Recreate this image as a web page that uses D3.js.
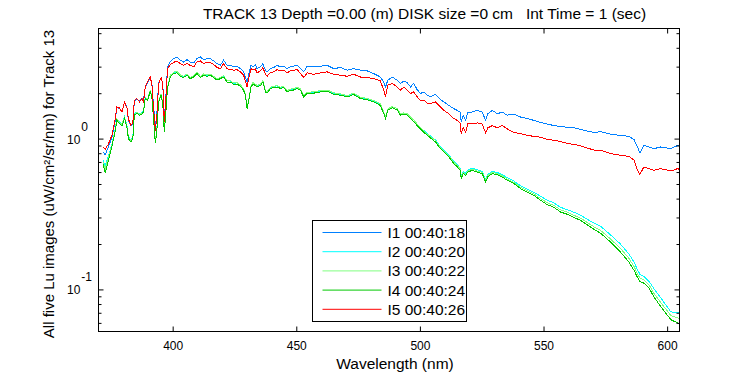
<!DOCTYPE html>
<html>
<head>
<meta charset="utf-8">
<script src="https://cdn.jsdelivr.net/npm/d3@7"></script>
<style>
  body { margin: 0; background: #fff; }
  text { font-family: "Liberation Sans", Arial, sans-serif; fill: #000; }
</style>
</head>
<body>
<script>
// wavelength (nm)
var wavelength = [
  371.8, 372.7, 374, 375.4, 376.8, 377.4, 378.5, 379.5, 380.5, 381.5, 382.1, 383.1, 383.9, 384.5, 385.5, 386.6, 387.6, 388.2, 388.9, 389.8,
  390.9, 391.6, 392.3, 393, 393.6, 394.3, 395.3, 396, 396.6, 397.4, 397.9, 399, 400.4, 401.7, 403.1, 404.4, 405.8, 407.1, 408.5, 409.8,
  411.2, 412.5, 413.9, 415.2, 416.6, 417.9, 419.3, 420.6, 422, 423.3, 424.7, 426, 427.4, 428.7, 429.4, 430.1, 430.7, 431.7, 432.5, 433.4,
  434.1, 435.5, 436.5, 437.5, 438.2, 439.5, 440.9, 442.2, 443.6, 444.9, 446.3, 447.6, 448.9, 450.3,
  451.7, 453, 454.4, 457, 459.8, 462.5, 465.1, 467.9, 470.6, 473.2, 476, 478.7, 481.3, 484, 485.4, 486.1, 487, 488.8, 490.8, 492.1,
  493.5, 494.9, 496.2, 497.5, 498.9, 500.2, 501.6, 503, 504.3, 506.3, 508.3, 509.7, 511.7, 513.7, 515.1, 516.2, 516.7, 517.5, 518.5, 519.4,
  521.2, 523.2, 525.2, 526.6, 527.5, 529.3, 531.3, 533.3, 535.3, 538, 540.7, 543.4, 546.1, 548.8, 551.5, 554.2, 556.9, 559.6, 562.3, 565,
  567.7, 570.4, 573.1,
  577.1, 581.1, 584.5, 586.6, 588, 589, 590.6, 592.7, 594.7, 597.4, 601.5, 604.2, 605
];

// I1 00:40:18
var lu1 = [
  0.82, 0.78, 0.88, 1.02, 1.32, 1.62, 1.58, 1.50, 1.75, 1.62, 1.32, 1.22, 1.26, 1.79, 1.81, 1.79, 1.84, 1.79, 2.20, 2.32,
  2.54, 2.32, 1.62, 1.19, 1.46, 2.32, 2.54, 2.32, 1.32, 2.09, 2.99, 3.22, 3.39, 3.48, 3.31, 3.22, 3.34, 3.22, 3.18, 3.39,
  3.48, 3.34, 3.39, 3.39, 3.27, 3.14, 3.06, 3.31, 3.06, 3.06, 2.99, 3.02, 2.91, 2.77, 2.56, 2.37, 2.63, 3.06, 2.99, 3.10,
  2.91, 2.99, 3.14, 2.84, 2.77, 2.91, 2.96, 3.06, 2.99, 3.02, 2.91, 2.99, 3.02, 3.06,
  2.91, 2.77, 3.02, 2.99, 3.02, 3.06, 2.91, 2.96, 2.84, 2.91, 2.84, 2.81, 2.70, 2.56, 2.37, 2.20, 2.44, 2.56, 2.44, 2.32,
  2.41, 2.34, 2.20, 2.32, 2.11, 1.99, 2.04, 1.94, 1.89, 1.97, 1.81, 1.75, 1.66, 1.58, 1.54, 1.50, 1.29, 1.43, 1.32, 1.50,
  1.50, 1.54, 1.50, 1.32, 1.46, 1.54, 1.46, 1.50, 1.43, 1.45, 1.39, 1.36, 1.32, 1.28, 1.25, 1.22, 1.20, 1.19, 1.18, 1.15,
  1.12, 1.10, 1.11,
  1.07, 1.05, 1.035, 0.985, 0.88, 0.80, 0.90, 0.88, 0.858, 0.88, 0.858, 0.90, 0.89
];

// I2 00:40:20
var lu2 = [
  0.72, 0.66, 0.77, 0.91, 1.16, 1.34, 1.29, 1.25, 1.39, 1.22, 1.03, 0.98, 1.03, 1.46, 1.50, 1.46, 1.49, 1.53, 1.87, 1.82,
  2.07, 1.92, 1.35, 0.96, 1.16, 1.78, 1.97, 1.74, 1.13, 1.65, 2.18, 2.60, 2.74, 2.77, 2.63, 2.58, 2.67, 2.54, 2.60, 2.74,
  2.58, 2.67, 2.63, 2.67, 2.58, 2.48, 2.54, 2.60, 2.41, 2.41, 2.33, 2.34, 2.26, 2.12, 1.97, 1.61, 1.78, 2.24, 2.34, 2.29,
  2.24, 2.29, 2.41, 2.07, 2.03, 2.18, 2.21, 2.24, 2.18, 2.21, 2.07, 2.12, 2.13, 2.18,
  2.12, 1.92, 2.02, 2.03, 2.07, 2.09, 2.00, 1.97, 1.92, 1.99, 1.87, 1.84, 1.78, 1.69, 1.48, 1.38, 1.57, 1.63, 1.58, 1.46,
  1.48, 1.46, 1.39, 1.33, 1.25, 1.19, 1.13, 1.08, 1.04, 0.98, 0.885, 0.84, 0.78, 0.705, 0.67, 0.64, 0.56, 0.605, 0.59, 0.62,
  0.637, 0.62, 0.606, 0.535, 0.58, 0.607, 0.596, 0.577, 0.55, 0.523, 0.486, 0.462, 0.44, 0.415, 0.39, 0.375, 0.35, 0.338, 0.325, 0.31,
  0.292, 0.275, 0.262,
  0.23, 0.20, 0.172, 0.152, 0.135, 0.126, 0.122, 0.113, 0.101, 0.088, 0.071, 0.070, 0.070
];

// I3 00:40:22
var lu3 = [
  0.70, 0.63, 0.75, 0.90, 1.15, 1.35, 1.28, 1.24, 1.38, 1.21, 1.02, 0.97, 1.02, 1.45, 1.49, 1.45, 1.48, 1.52, 1.86, 1.81,
  2.08, 1.92, 1.34, 0.95, 1.15, 1.78, 1.98, 1.74, 1.12, 1.65, 2.19, 2.62, 2.76, 2.79, 2.64, 2.59, 2.69, 2.55, 2.61, 2.76,
  2.59, 2.68, 2.64, 2.68, 2.59, 2.49, 2.55, 2.61, 2.42, 2.42, 2.34, 2.35, 2.27, 2.13, 1.98, 1.62, 1.79, 2.25, 2.35, 2.30,
  2.25, 2.30, 2.42, 2.08, 2.04, 2.19, 2.22, 2.25, 2.19, 2.22, 2.08, 2.13, 2.14, 2.19,
  2.13, 1.93, 2.03, 2.04, 2.08, 2.10, 2.01, 1.98, 1.93, 2.00, 1.88, 1.85, 1.79, 1.70, 1.49, 1.39, 1.57, 1.63, 1.58, 1.46,
  1.48, 1.46, 1.39, 1.33, 1.25, 1.18, 1.12, 1.07, 1.03, 0.97, 0.875, 0.83, 0.77, 0.697, 0.663, 0.632, 0.553, 0.597, 0.58, 0.61,
  0.628, 0.61, 0.597, 0.525, 0.57, 0.597, 0.586, 0.567, 0.54, 0.513, 0.476, 0.451, 0.43, 0.40, 0.376, 0.36, 0.337, 0.325, 0.31, 0.297,
  0.278, 0.26, 0.246,
  0.216, 0.187, 0.161, 0.142, 0.127, 0.119, 0.116, 0.107, 0.094, 0.082, 0.067, 0.065, 0.064
];

// I4 00:40:24
var lu4 = [
  0.68, 0.59, 0.72, 0.88, 1.13, 1.32, 1.26, 1.22, 1.36, 1.19, 1.00, 0.95, 1.00, 1.43, 1.47, 1.43, 1.46, 1.50, 1.84, 1.79,
  2.04, 1.89, 1.32, 0.93, 1.13, 1.75, 1.94, 1.71, 1.10, 1.62, 2.15, 2.56, 2.70, 2.73, 2.59, 2.54, 2.63, 2.50, 2.56, 2.70,
  2.54, 2.63, 2.59, 2.63, 2.54, 2.44, 2.50, 2.56, 2.37, 2.37, 2.29, 2.30, 2.22, 2.09, 1.94, 1.58, 1.75, 2.20, 2.30, 2.25,
  2.20, 2.25, 2.37, 2.04, 2.00, 2.15, 2.18, 2.20, 2.15, 2.18, 2.04, 2.09, 2.10, 2.15,
  2.09, 1.89, 1.99, 2.00, 2.04, 2.06, 1.97, 1.94, 1.89, 1.96, 1.84, 1.81, 1.75, 1.66, 1.46, 1.36, 1.54, 1.60, 1.55, 1.43,
  1.45, 1.43, 1.36, 1.30, 1.22, 1.16, 1.10, 1.05, 1.01, 0.95, 0.858, 0.815, 0.755, 0.683, 0.65, 0.62, 0.543, 0.586, 0.57, 0.60,
  0.616, 0.60, 0.586, 0.515, 0.56, 0.586, 0.575, 0.556, 0.53, 0.503, 0.466, 0.442, 0.42, 0.39, 0.365, 0.35, 0.326, 0.315, 0.30, 0.287,
  0.268, 0.25, 0.236,
  0.206, 0.177, 0.152, 0.134, 0.12, 0.113, 0.11, 0.102, 0.089, 0.077, 0.063, 0.060, 0.0595
];

// I5 00:40:26
var lu5 = [
  0.88, 0.85, 0.92, 1.05, 1.35, 1.62, 1.60, 1.50, 1.75, 1.60, 1.35, 1.22, 1.28, 1.79, 1.84, 1.75, 1.84, 1.75, 2.20, 2.36,
  2.56, 2.30, 1.55, 1.13, 1.40, 2.30, 2.54, 2.30, 1.29, 2.00, 2.90, 3.10, 3.20, 3.27, 3.14, 3.06, 3.14, 3.06, 2.99, 3.22,
  3.27, 3.14, 3.22, 3.18, 3.10, 2.96, 2.91, 3.14, 2.91, 2.87, 2.84, 2.87, 2.77, 2.63, 2.41, 2.20, 2.50, 2.91, 2.84, 2.91,
  2.73, 2.81, 2.96, 2.67, 2.59, 2.73, 2.77, 2.87, 2.81, 2.84, 2.73, 2.81, 2.84, 2.87,
  2.70, 2.54, 2.73, 2.67, 2.73, 2.77, 2.67, 2.63, 2.59, 2.67, 2.56, 2.54, 2.50, 2.41, 2.09, 1.89, 2.26, 2.32, 2.20, 2.09,
  2.20, 2.09, 1.99, 2.04, 1.89, 1.79, 1.80, 1.72, 1.71, 1.75, 1.62, 1.54, 1.46, 1.36, 1.32, 1.27, 1.08, 1.18, 1.10, 1.26,
  1.25, 1.27, 1.25, 1.09, 1.18, 1.22, 1.18, 1.22, 1.16, 1.10, 1.08, 1.05, 1.035, 1.02, 0.99, 0.975, 0.955, 0.93, 0.915, 0.895,
  0.865, 0.84, 0.84,
  0.795, 0.775, 0.763, 0.72, 0.62, 0.58, 0.648, 0.632, 0.616, 0.632, 0.61, 0.632, 0.625
];

var seriesNames = ["I1 00:40:18", "I2 00:40:20", "I3 00:40:22", "I4 00:40:24", "I5 00:40:26"];
var xTicks = [400, 450, 500, 550, 600];
var yMajor = [0.1, 1];
var yMajorExp = ["-1", "0"];
var yMinor = [0.06, 0.07, 0.08, 0.09, 0.2, 0.3, 0.4, 0.5, 0.6, 0.7, 0.8, 0.9, 2, 3, 4, 5];

var colors = ["#0080ff", "#00ffff", "#80ff80", "#00c800", "#ff0000"];
var font = "'Liberation Sans', Arial, sans-serif";

var margin = {top:28, left:98, bottom:44, right:71};
var totalWidth = 750;
var totalHeight = 375;
var width = totalWidth - margin.left - margin.right;
var height = totalHeight - margin.top - margin.bottom;

var svgin = d3.select("body")
    .append("svg")
    .attr("width", totalWidth)
    .attr("height", totalHeight);

svgin.append("rect")
    .attr("width", totalWidth)
    .attr("height", totalHeight)
    .attr("fill", "white");

var svg = svgin
    .append("g")
    .attr("transform", "translate(" + (margin.left + 0.5) + "," + (margin.top + 0.5) + ")");

var x = d3.scaleLinear().domain([370, 605]).range([0, width]);
var y = d3.scaleLog().domain([0.0526, 5.37]).range([height, 0]);

svgin.append("defs")
    .append("clipPath")
    .attr("id", "plotclip")
    .append("rect")
    .attr("width", width)
    .attr("height", height);

var allSeries = [lu1, lu2, lu3, lu4, lu5].map(function(vals, i) {
  return {
    name: seriesNames[i],
    color: colors[i],
    values: wavelength.map(function(w, j) { return [w, vals[j]]; })
  };
});

var line = d3.line()
    .x(d => x(d[0]))
    .y(d => y(d[1]));

// MATLAB-style aliased lines
svg.append("g")
   .attr("clip-path", "url(#plotclip)")
   .selectAll("path")
   .data(allSeries)
   .enter()
   .append("path")
   .attr("d", d => line(d.values))
   .attr("fill", "none")
   .attr("stroke", d => d.color)
   .attr("stroke-width", 1)
   .attr("shape-rendering", "crispEdges");

// axes (ticks point inward)
var xAxisB = svg.append("g")
    .attr("transform", "translate(0," + height + ")")
    .call(d3.axisBottom(x).tickValues(xTicks).tickSize(-5).tickPadding(10));
xAxisB.select(".domain").remove();
xAxisB.selectAll("text").attr("font-size", 12).attr("font-family", font);

var xAxisT = svg.append("g")
    .call(d3.axisTop(x).tickValues(xTicks).tickSize(-5).tickFormat(""));
xAxisT.select(".domain").remove();

[d3.axisLeft, d3.axisRight].forEach(function(ax, k) {
  var gMin = svg.append("g")
      .attr("transform", "translate(" + (k ? width : 0) + ",0)")
      .call(ax(y).tickValues(yMinor).tickSize(-3).tickFormat(""));
  gMin.select(".domain").remove();
  var gMaj = svg.append("g")
      .attr("transform", "translate(" + (k ? width : 0) + ",0)")
      .call(ax(y).tickValues(yMajor).tickSize(-5).tickFormat(""));
  gMaj.select(".domain").remove();
});

svg.append("rect")
   .attr("width", width)
   .attr("height", height)
   .attr("fill", "none")
   .attr("stroke", "black")
   .attr("stroke-width", 1);

// y tick labels 10^n
yMajor.forEach(function(v, i) {
  var t = svg.append("text")
      .attr("font-family", font)
      .attr("font-size", 12)
      .attr("x", -31.5)
      .attr("y", y(v) + 5);
  t.append("tspan").text("10");
  t.append("tspan")
   .attr("dy", -13)
   .attr("dx", 1)
   .text(yMajorExp[i]);
});

// title and axis labels
svgin.append("text")
     .attr("x", 424.5)
     .attr("y", 18.5)
     .attr("text-anchor", "middle")
     .attr("font-family", font)
     .attr("font-size", 15.5)
     .style("white-space", "pre")
     .text("TRACK 13 Depth =0.00 (m) DISK size =0 cm   Int Time = 1 (sec)");

svgin.append("text")
     .attr("x", 395)
     .attr("y", 369)
     .attr("text-anchor", "middle")
     .attr("font-family", font)
     .attr("font-size", 15.5)
     .text("Wavelength (nm)");

svgin.append("text")
     .attr("transform", "translate(54,184) rotate(-90)")
     .attr("text-anchor", "middle")
     .attr("font-family", font)
     .attr("font-size", 15)
     .text("All five Lu images (uW/cm²/sr/nm) for Track 13");

// legend
var legend = svgin.append("g")
    .attr("transform", "translate(312.5,220.5)");

legend.append("rect")
      .attr("width", 154)
      .attr("height", 101)
      .attr("fill", "white")
      .attr("stroke", "black")
      .attr("stroke-width", 1);

var rows = legend.selectAll("g.row")
    .data(allSeries)
    .enter()
    .append("g")
    .attr("class", "row")
    .attr("transform", (d, i) => "translate(0," + (12 + i * 19.2) + ")");

rows.append("line")
    .attr("x1", 10)
    .attr("x2", 69)
    .attr("stroke", d => d.color)
    .attr("stroke-width", 1);

rows.append("text")
    .attr("x", 75)
    .attr("y", 5.4)
    .attr("font-family", font)
    .attr("font-size", 15.5)
    .text(d => d.name);
</script>
</body>
</html>
